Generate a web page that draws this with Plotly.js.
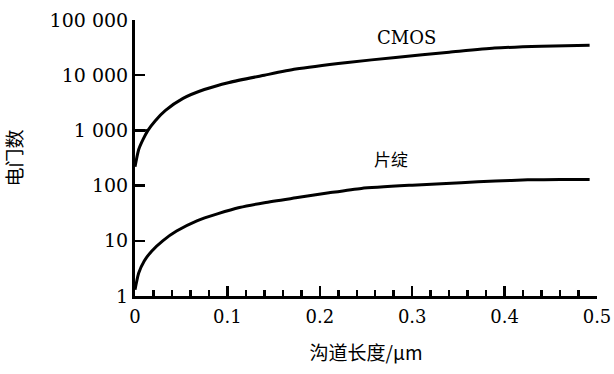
<!DOCTYPE html>
<html><head><meta charset="utf-8">
<script src="https://cdn.plot.ly/plotly-3.0.1.min.js"></script>
<style>html,body{margin:0;padding:0;background:#fff}</style>
</head><body><div id="chart" style="width:614px;height:374px"></div>
<script>
// Data
const cmosLength = [0, 0.004, 0.009, 0.014, 0.022, 0.033, 0.052, 0.075, 0.102, 0.14, 0.174, 0.23, 0.282, 0.34, 0.389, 0.44, 0.492];
const cmosGates  = [220, 450, 700, 1000, 1500, 2300, 3800, 5500, 7400, 10000, 12900, 17000, 21000, 26000, 31000, 33500, 35000];
const chipLength = [0, 0.004, 0.01, 0.018, 0.03, 0.045, 0.067, 0.09, 0.113, 0.14, 0.174, 0.21, 0.245, 0.3, 0.353, 0.39, 0.425, 0.46, 0.492];
const chipGates  = [1.3, 2.6, 4.3, 6.5, 10, 15, 23, 31, 40, 49, 60, 74, 89, 102, 113, 121, 127, 129, 129];
const refLineX = [0, 0.014];
const refLineY = [1000, 1000];
const seriesNames = ["CMOS", "片绽"];
const xTickVals = [0, 0.1, 0.2, 0.3, 0.4, 0.5];
const xTickText = ["0", "0.1", "0.2", "0.3", "0.4", "0.5"];
const yTickVals = [1, 10, 100, 1000, 10000, 100000];
const yTickText = ["1", "10", "100", "1 000", "10 000", "100 000"];
const labelPos = [{x: 0.294, y: 49000}, {x: 0.277, y: 310}];

const serif = "DejaVu Serif";
const cjk = "Noto Sans CJK SC";
const lineStyle = {color: "#000", width: 3, shape: "spline", smoothing: 0.6};

const traces = [
  {x: cmosLength, y: cmosGates, mode: "lines", line: lineStyle, name: seriesNames[0], hoverinfo: "skip"},
  {x: chipLength, y: chipGates, mode: "lines", line: lineStyle, name: seriesNames[1], hoverinfo: "skip"},
  {x: refLineX, y: refLineY, mode: "lines", line: {color: "#000", width: 2.5}, hoverinfo: "skip"}
];

const layout = {
  width: 614, height: 374,
  margin: {l: 135, r: 17, t: 20, b: 78},
  paper_bgcolor: "#fff", plot_bgcolor: "#fff",
  showlegend: false,
  font: {family: serif, color: "#000", size: 18},
  xaxis: {
    range: [0, 0.5], showgrid: false, zeroline: false,
    showline: true, linecolor: "#000", linewidth: 3,
    ticks: "inside", ticklen: 10, tickwidth: 2.5, tickcolor: "#000",
    tickvals: xTickVals, ticktext: xTickText,
    tickfont: {family: serif, size: 18},
    ticklabelstandoff: 2,
    minor: {dtick: 0.02, ticks: "inside", ticklen: 6, tickwidth: 2.5, tickcolor: "#000", showgrid: false},
    title: {text: "沟道长度/μm", font: {family: cjk, size: 19}, standoff: 22}
  },
  yaxis: {
    type: "log", range: [0, 5], showgrid: false, zeroline: false,
    showline: true, linecolor: "#000", linewidth: 3,
    ticks: "inside", ticklen: 10, tickwidth: 2.5, tickcolor: "#000",
    tickvals: yTickVals, ticktext: yTickText,
    tickfont: {family: serif, size: 19},
    title: {text: "电门数", font: {family: cjk, size: 19}, standoff: 25}
  },
  annotations: [
    {x: labelPos[0].x, y: Math.log10(labelPos[0].y), xref: "x", yref: "y", text: seriesNames[0], showarrow: false, font: {family: serif, size: 18}},
    {x: labelPos[1].x, y: Math.log10(labelPos[1].y), xref: "x", yref: "y", text: seriesNames[1], showarrow: false, font: {family: cjk, size: 17}}
  ]
};

Plotly.newPlot("chart", traces, layout, {staticPlot: true, displayModeBar: false});
</script>
</body></html>
